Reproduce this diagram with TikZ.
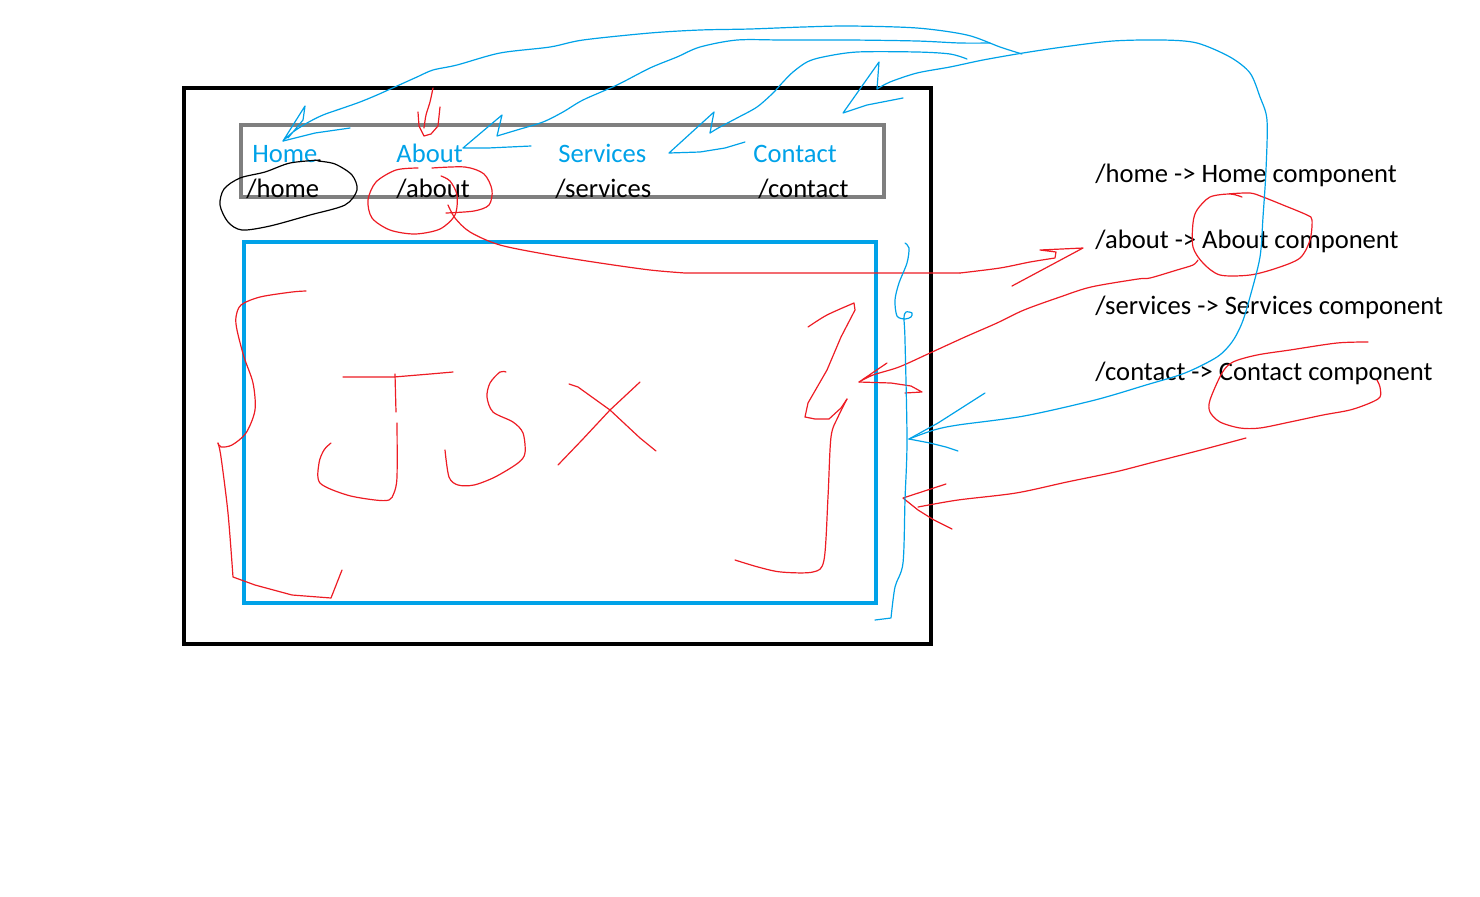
\documentclass[tikz,border=0pt]{standalone}
\usepackage{fontspec}
\setmainfont{Carlito}

\definecolor{paintblue}{RGB}{0,162,232}
\definecolor{paintred}{RGB}{237,28,36}
\definecolor{navgray}{RGB}{127,127,127}

\tikzset{
  pen/.style={line width=0.6pt, line join=round, line cap=round},
  redpen/.style={pen, draw=paintred},
  bluepen/.style={pen, draw=paintblue},
  blackpen/.style={pen, draw=black},
  txt/.style={inner sep=0pt, anchor=base west, font=\fontsize{13.3}{16}\selectfont},
  navtxt/.style={txt, text=paintblue},
}

\begin{document}
\begin{tikzpicture}[x=0.5pt,y=-0.5pt]

  % Fix the size of the page
  \useasboundingbox (0,0) rectangle (1480,896);

  % Draw the browser window, the nav bar and the content area
  \draw[line width=2pt] (184,88) rectangle (931,644);
  \draw[line width=2pt, navgray] (241,125) rectangle (884,197);
  \draw[line width=2.4pt, paintblue] (244,242) rectangle (876,603);

  % Nav links and their paths
  \node[navtxt] (navhome) at (252,162) {Home};
  \node[navtxt] (navabout) at (396,162) {About};
  \node[navtxt] (navservices) at (558,162) {Services};
  \node[navtxt] (navcontact) at (753,162) {Contact};

  \node[txt] (pathhome) at (246,197) {/home};
  \node[txt] (pathabout) at (396,197) {/about};
  \node[txt] (pathservices) at (555,197) {/services};
  \node[txt] (pathcontact) at (758,197) {/contact};

  % The routes on the right
  \node[txt] (routehome) at (1095,182) {/home -> Home component};
  \node[txt] (routeabout) at (1095,248) {/about -> About component};
  \node[txt] (routeservices) at (1095,314) {/services -> Services component};
  \node[txt] (routecontact) at (1095,380) {/contact -> Contact component};

  % Black ring round /home
  \draw[blackpen] plot[smooth] coordinates {(320,160) (290,163) (265,172) (240,178) (224,189) (220,205)
    (228,222) (242,230) (270,226) (310,215) (345,205) (357,190) (352,175) (335,164) (318,161)};

  % Red arrow down to About
  \draw[redpen] plot[smooth] coordinates {(433,88) (430,102) (426,115) (424,128)};
  \draw[redpen] (418,112) -- (419,126) -- (424,136) -- (431,134) -- (438,126) -- (440,107);

  % Red rings round /about
  \draw[redpen] plot[smooth] coordinates {(418,168) (396,170) (376,182) (368,200) (372,218) (390,230)
    (415,234) (440,229) (455,215) (457,195) (450,181) (441,176)};
  \draw[redpen] plot[smooth] coordinates {(432,168) (465,167) (484,174) (492,190) (489,205) (474,211) (446,213)};

  % Red line from /about to the route
  \draw[redpen] plot[smooth] coordinates {(448,205) (455,218) (470,232) (500,245) (550,255) (600,263)
    (650,270) (685,273)} -- (960,273);
  \draw[redpen] plot[smooth] coordinates {(960,273) (1000,268) (1030,262) (1055,258)}
    -- (1056,252) -- (1040,250) -- (1083,248) -- (1012,286);

  % JSX in the content area
  % left brace
  \draw[redpen] plot[smooth] coordinates {(306,291) (292,292) (260,297) (241,305) (236,317) (237,330)
    (244,357) (253,383) (255,410) (246,433) (232,445) (221,447) (218,443)};
  \draw[redpen] plot[smooth] coordinates {(218,443) (221,457) (228,513) (233,577)}
    -- (255,585) -- (292,595) -- (331,598) -- (342,570);
  % J
  \draw[redpen] (343,377) -- (394,377) -- (430,374) -- (453,372);
  \draw[redpen] (395,374) -- (396,412);
  \draw[redpen] plot[smooth] coordinates {(397,423) (397,477) (394,493) (389,500) (375,500) (347,495)
    (320,483) (319,463) (324,450) (331,443)};
  % S
  \draw[redpen] plot[smooth] coordinates {(506,372) (500,372) (490,383) (487,397) (493,412) (513,422)
    (523,433) (525,453) (518,463) (495,477) (474,485) (458,485) (449,477) (445,450)};
  % X
  \draw[redpen] (569,384) -- (578,387) -- (610,410) -- (640,438) -- (656,451);
  \draw[redpen] (640,382) -- (610,410) -- (582,440) -- (558,465);
  % right brace
  \draw[redpen] plot[smooth] coordinates {(808,327) (827,315) (854,303)} -- (855,310)
    -- (841,337) -- (827,370) -- (808,403) -- (805,417) -- (815,419) -- (829,419) -- (841,408) -- (847,399);
  \draw[redpen] plot[smooth] coordinates {(847,399) (838,417) (831,437) (828,497) (824,560) (813,572)
    (781,572) (758,567) (735,560)};

  % Red ring round About component, back to the content area
  \draw[redpen] plot[smooth] coordinates {(1242,197) (1230,194) (1210,197) (1197,210) (1193,223) (1193,247)
    (1203,263) (1220,275) (1250,275) (1277,268) (1300,258) (1310,240) (1312,220) (1307,215) (1283,205)
    (1263,197) (1250,193) (1227,194)};
  \draw[redpen] plot[smooth] coordinates {(1198,260) (1193,265) (1177,270) (1150,278) (1138,279) (1091,287)
    (1060,297) (1024,310) (997,323) (965,337) (930,353) (899,367) (873,375) (859,382)} -- (887,363);
  \draw[redpen] (859,382) -- (891,383) -- (911,386) -- (922,392) -- (905,393);

  % Red ring round Contact component, back to the content area
  \draw[redpen] plot[smooth] coordinates {(1368,342) (1337,343) (1290,350) (1257,355) (1233,362) (1222,373)
    (1210,400) (1210,412) (1220,422) (1240,428) (1260,428) (1290,422) (1323,415) (1350,410) (1370,403)
    (1380,397) (1380,387) (1377,380)};
  \draw[redpen] plot[smooth] coordinates {(1246,438) (1201,450) (1154,462) (1115,472) (1067,482) (1016,493)
    (958,500) (918,507)};
  \draw[redpen] (946,484) -- (903,498) -- (918,510) -- (934,520) -- (952,529);

  % Blue line down the side of the content area
  \draw[bluepen] plot[smooth] coordinates {(905,243) (909,248) (907,263) (899,283) (895,300) (897,316)
    (905,319) (911,317) (912,313) (906,312) (904,318) (905,340) (907,440) (905,500) (903,563) (895,587)
    (891,618)} -- (875,620);

  % Big blue loop from the routes up to Contact
  \draw[bluepen] plot[smooth] coordinates {(909,439) (934,430) (958,425) (1024,416) (1095,400) (1146,385)
    (1185,373) (1217,357) (1232,342) (1242,323) (1250,297) (1260,257) (1263,217) (1266,170) (1267,120)
    (1260,97) (1250,73) (1230,57) (1197,43) (1163,40) (1113,41) (1063,47) (1023,53) (983,60) (950,67)
    (917,73) (890,82) (877,89)} -- (879,62) -- (843,113) -- (867,105) -- (903,98);
  \draw[bluepen] (909,439) -- (938,423) -- (985,393);
  \draw[bluepen] (909,439) -- (930,443) -- (946,447) -- (958,451);

  % Blue strokes to Home, About and Services
  \draw[bluepen] plot[smooth] coordinates {(1022,54) (1000,47) (967,35) (917,28) (850,26) (803,27) (750,29)
    (700,30) (650,33) (583,40) (550,47) (500,53) (457,65) (433,70) (417,77) (397,86) (377,95) (360,102)
    (343,108) (323,115) (307,123) (293,132) (283,141)} -- (305,106) -- (303,120) -- (288,138);
  \draw[bluepen] (283,141) -- (315,133) -- (350,128);

  \draw[bluepen] plot[smooth] coordinates {(990,43) (960,43) (917,41) (850,40) (783,40) (737,40) (700,47)
    (677,57) (650,68) (617,85) (583,100) (563,112) (543,122) (517,130) (497,136)}
    -- (502,115) -- (463,148) -- (488,148) -- (531,146);

  \draw[bluepen] plot[smooth] coordinates {(967,59) (950,54) (917,52) (857,52) (823,57) (807,62) (793,72)
    (783,82) (773,93) (757,107) (737,118) (720,127) (710,133)}
    -- (714,112) -- (669,153) -- (700,152) -- (725,148) -- (745,142);

\end{tikzpicture}
\end{document}
